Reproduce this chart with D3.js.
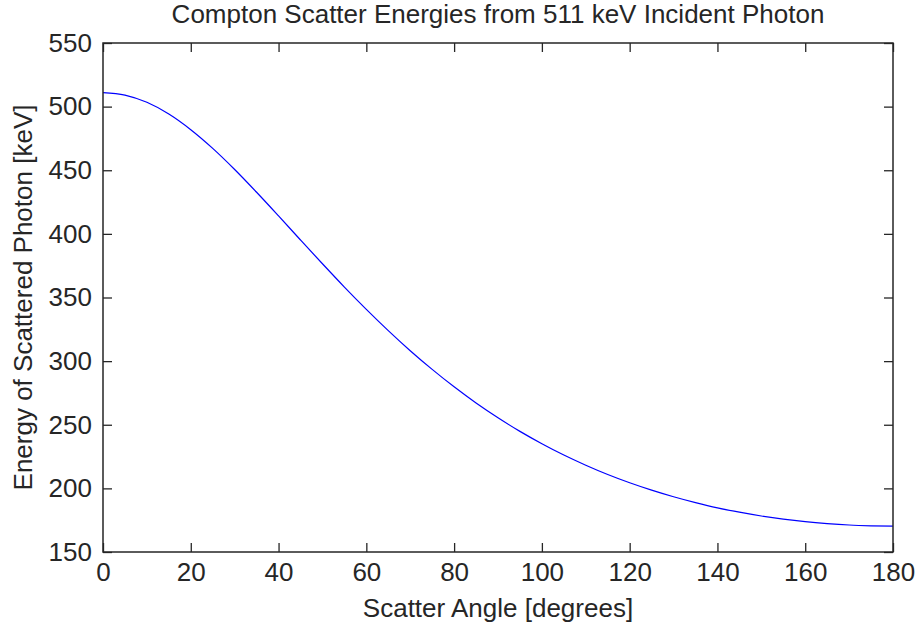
<!DOCTYPE html>
<html>
<head>
<meta charset="utf-8">
<script src="https://cdn.jsdelivr.net/npm/d3@7"></script>
<style>
  body { margin: 0; background: #fff; }
  svg text { font-family: "Liberation Sans", Arial, sans-serif; fill: #262626; }
</style>
</head>
<body>
<div id="chart"></div>
<script>
// scatter angle (deg) and scattered photon energy (keV)
const angles = [0, 5, 10, 15, 20, 25, 30, 35, 40, 45, 50, 55, 60, 65, 70, 75, 80, 85, 90,
                95, 100, 105, 110, 115, 120, 125, 130, 135, 140, 145, 150, 155, 160, 165, 170, 175, 180];
const energies = [511, 509.1, 503.4, 494.2, 481.9, 467.2, 450.6, 432.7, 414.1, 395.2, 376.5, 358.2, 340.7,
                  324.0, 308.2, 293.5, 279.8, 267.1, 255.5, 244.8, 235.1, 226.2, 218.2, 210.9, 204.4,
                  198.6, 193.4, 188.8, 184.7, 181.3, 178.3, 175.8, 173.8, 172.3, 171.2, 170.6, 170.3];
const xTicks = [0, 20, 40, 60, 80, 100, 120, 140, 160, 180];
const yTicks = [150, 200, 250, 300, 350, 400, 450, 500, 550];

const W = 917, H = 627;
const m = { top: 43, right: 24, bottom: 75, left: 103 };
const iw = W - m.left - m.right, ih = H - m.top - m.bottom;

const svg = d3.select("#chart").append("svg").attr("width", W).attr("height", H);
const g = svg.append("g").attr("transform", `translate(${m.left},${m.top})`);

const x = d3.scaleLinear().domain([0, 180]).range([0, iw]);
const y = d3.scaleLinear().domain([150, 550]).range([ih, 0]);

const data = angles.map((a, i) => ({ a, e: energies[i] }));

// curve
g.append("path").datum(data)
  .attr("fill", "none").attr("stroke", "#0000ff").attr("stroke-width", 1.2)
  .attr("d", d3.line().x(d => x(d.a)).y(d => y(d.e)).curve(d3.curveMonotoneX));

// axes: ticks point inward on all four sides
const fs = "26px";
const styleAxis = sel => {
  sel.select(".domain").remove();
  sel.selectAll(".tick line").attr("stroke", "#262626").attr("stroke-width", 1.3);
  sel.selectAll("text").style("font-size", fs).attr("fill", "#262626");
};
g.append("g").attr("transform", `translate(0,${ih})`)
  .call(d3.axisBottom(x).tickValues(xTicks).tickSize(-9).tickPadding(11))
  .call(styleAxis);
g.append("g")
  .call(d3.axisLeft(y).tickValues(yTicks).tickSize(-9).tickPadding(11))
  .call(styleAxis);
g.append("g")
  .call(d3.axisTop(x).tickValues(xTicks).tickSize(-9).tickFormat(""))
  .call(styleAxis);
g.append("g").attr("transform", `translate(${iw},0)`)
  .call(d3.axisRight(y).tickValues(yTicks).tickSize(-9).tickFormat(""))
  .call(styleAxis);

g.append("rect").attr("width", iw).attr("height", ih)
  .attr("fill", "none").attr("stroke", "#262626").attr("stroke-width", 1.5);

// labels
svg.append("text").attr("x", m.left + iw / 2).attr("y", 23)
  .attr("text-anchor", "middle").style("font-size", fs)
  .text("Compton Scatter Energies from 511 keV Incident Photon");
svg.append("text").attr("x", m.left + iw / 2).attr("y", 617)
  .attr("text-anchor", "middle").style("font-size", fs)
  .text("Scatter Angle [degrees]");
svg.append("text").attr("transform", `translate(32,${m.top + ih / 2}) rotate(-90)`)
  .attr("text-anchor", "middle").style("font-size", fs)
  .text("Energy of Scattered Photon [keV]");
</script>
</body>
</html>
